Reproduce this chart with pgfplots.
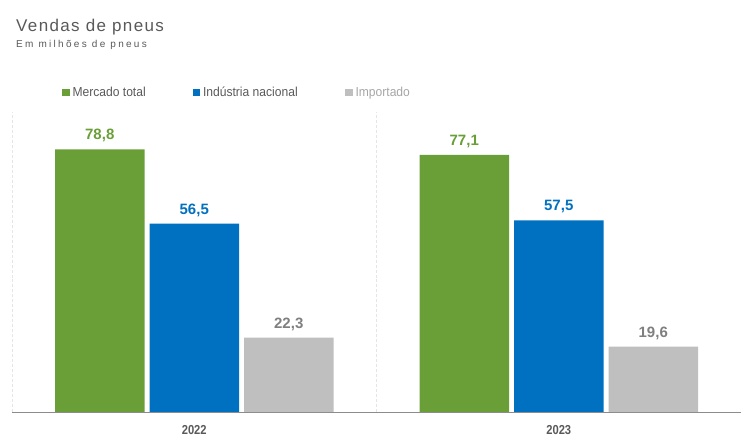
\documentclass[border=0pt]{standalone}
\usepackage{pgfplots}
\pgfplotsset{compat=1.18}
\usepackage{fontspec}
\setmainfont{Liberation Sans}
\newfontfamily\titlefont[LetterSpace=8]{Liberation Sans}
\newfontfamily\subfont[LetterSpace=23]{Liberation Sans}
\newfontfamily\condfont[FakeStretch=0.86]{Liberation Sans}
\newfontfamily\legfont[FakeStretch=0.93]{Liberation Sans}
\definecolor{cgreen}{HTML}{6A9F37}
\definecolor{cblue}{HTML}{0070C0}
\definecolor{cgray}{HTML}{BFBFBF}
\definecolor{cgraytxt}{HTML}{7F7F7F}
\definecolor{ctxt}{HTML}{595959}
\definecolor{clegl}{HTML}{A6A6A6}
\begin{document}
\begin{tikzpicture}
\path[use as bounding box] (0,0) rectangle (752bp,438bp);
\node[anchor=base west, inner sep=0, text=ctxt, font=\titlefont\fontsize{17bp}{19bp}\selectfont] at (16bp,406bp) {Vendas de pneus};
\node[anchor=base west, inner sep=0, text=ctxt, font=\subfont\fontsize{10bp}{12bp}\selectfont] at (16bp,390bp) {Em milhões de pneus};
\begin{axis}[
  scale only axis,
  at={(12bp,26bp)}, anchor=south west,
  width=729bp, height=300bp,
  xmin=-0.5, xmax=1.5, ymin=0, ymax=90,
  ybar=5bp, bar width=89.5bp,
  axis y line=none,
  axis x line*=bottom,
  x axis line style={draw=gray!90, line width=0.9bp, -},
  xtick={0,1}, xticklabels={2022,2023},
  major tick length=0pt,
  minor xtick={-0.5,0.5},
  minor tick length=0pt,
  xminorgrids,
  minor grid style={densely dashed, color=black!10, line width=0.5bp},
  xticklabel style={font=\condfont\bfseries\fontsize{13bp}{15bp}\selectfont, text=ctxt, inner sep=0pt, yshift=-13bp},
  nodes near coords,
  /pgf/number format/.cd, use comma, fixed, fixed zerofill, precision=1, assume math mode=true, /pgfplots/.cd,
  every node near coord/.append style={font=\bfseries\fontsize{15bp}{17bp}\selectfont, inner sep=0pt, yshift=7bp},
  legend columns=3,
  legend style={at={(0.0686,1.064)}, anchor=west, draw=none, fill=none, inner sep=0pt, outer sep=0pt,
    font=\legfont\fontsize{13bp}{15bp}\selectfont, text=ctxt,
    nodes={inner sep=0pt, outer sep=0pt, text height=9.5bp, text depth=2.5bp}},
  legend image code/.code={\fill[#1,draw=none] (0bp,-3.5bp) rectangle (7.5bp,3.5bp);},
]
\addplot[fill=cgreen, draw=none, every node near coord/.append style={text=cgreen}] coordinates {(0,78.8) (1,77.1)};
\addplot[fill=cblue, draw=none, every node near coord/.append style={text=cblue}] coordinates {(0,56.5) (1,57.5)};
\addplot[fill=cgray, draw=none, every node near coord/.append style={text=cgraytxt}] coordinates {(0,22.3) (1,19.6)};
\addlegendentry{\makebox[123bp][l]{\hspace{3bp}Mercado total}}
\addlegendentry{\makebox[145bp][l]{\hspace{3bp}Indústria nacional}}
\addlegendentry{\hspace{3bp}\textcolor{clegl}{Importado}}
\end{axis}
\end{tikzpicture}
\end{document}
